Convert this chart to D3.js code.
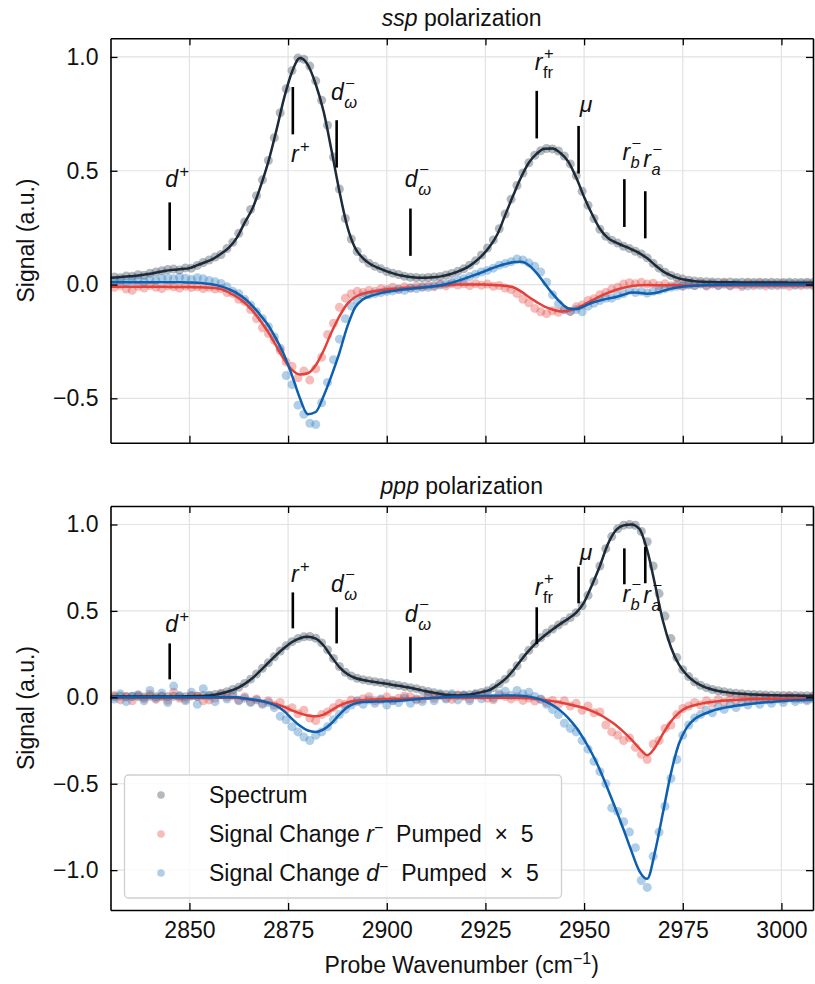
<!DOCTYPE html>
<html>
<head>
<meta charset="utf-8">
<script src="https://cdn.jsdelivr.net/npm/d3@7"></script>
<style>
  body { margin: 0; background: #fff; }
  svg text { font-family: "Liberation Sans", Arial, sans-serif; fill: #111; }
</style>
</head>
<body>
<svg id="chart" width="815" height="984"></svg>
<script>
// ---- sampling grids (cm^-1) ----
const fitWavenumber = [2830,2832,2834,2836,2838,2840,2842,2844,2846,2848,
  2850,2852,2854,2856,2858,2860,2862,2864,2866,2868,
  2870,2872,2874,2876,2878,2880,2882,2884,2886,2888,
  2890,2892,2894,2896,2898,2900,2902,2904,2906,2908,
  2910,2912,2914,2916,2918,2920,2922,2924,2926,2928,
  2930,2932,2934,2936,2938,2940,2942,2944,2946,2948,
  2950,2952,2954,2956,2958,2960,2962,2964,2966,2968,
  2970,2972,2974,2976,2978,2980,2982,2984,2986,2988,
  2990,2992,2994,2996,2998,3000,3002,3004,3006,3008];

const pointWavenumber = [2831,2832.5,2834,2835.5,2837,2838.5,2840,2841.5,2843,2844.5,
  2846,2847.5,2849,2850.5,2852,2853.5,2855,2856.5,2858,2859.5,
  2861,2862.5,2864,2865.5,2867,2868.5,2870,2871.5,2873,2874.5,
  2876,2877.5,2879,2880.5,2882,2883.5,2885,2886.5,2888,2889.5,
  2891,2892.5,2894,2895.5,2897,2898.5,2900,2901.5,2903,2904.5,
  2906,2907.5,2909,2910.5,2912,2913.5,2915,2916.5,2918,2919.5,
  2921,2922.5,2924,2925.5,2927,2928.5,2930,2931.5,2933,2934.5,
  2936,2937.5,2939,2940.5,2942,2943.5,2945,2946.5,2948,2949.5,
  2951,2952.5,2954,2955.5,2957,2958.5,2960,2961.5,2963,2964.5,
  2966,2967.5,2969,2970.5,2972,2973.5,2975,2976.5,2978,2979.5,
  2981,2982.5,2984,2985.5,2987,2988.5,2990,2991.5,2993,2994.5,
  2996,2997.5,2999,3000.5,3002,3003.5,3005,3006.5,3008];

// ---- ssp polarization: fitted curves ----
const sspSpectrumFit = [.030,.032,.035,.038,.042,.047,.054,.061,.065,.068,
  .072,.085,.098,.113,.135,.162,.205,.272,.335,.43,
  .54,.675,.82,.935,.995,.965,.88,.76,.59,.41,
  .255,.16,.115,.088,.072,.058,.047,.039,.033,.030,
  .030,.032,.037,.045,.057,.072,.095,.125,.165,.22,
  .305,.39,.47,.535,.575,.597,.598,.578,.54,.47,
  .385,.31,.245,.205,.185,.17,.155,.138,.115,.085,
  .058,.04,.027,.02,.015,.012,.011,.01,.01,.01,
  .009,.009,.009,.009,.009,.009,.008,.008,.008,.008];
const sspRPumpFit = [-.010,-.010,-.010,-.010,-.010,-.010,-.010,-.010,-.011,-.011,
  -.011,-.012,-.013,-.015,-.02,-.035,-.055,-.08,-.115,-.16,
  -.21,-.27,-.33,-.375,-.395,-.39,-.355,-.29,-.21,-.14,
  -.085,-.055,-.04,-.032,-.027,-.022,-.019,-.016,-.014,-.012,
  -.01,-.008,-.005,-.002,0,0,0,0,-.001,-.003,
  -.006,-.012,-.03,-.055,-.077,-.097,-.11,-.118,-.115,-.105,
  -.088,-.07,-.052,-.037,-.024,-.014,-.007,-.003,-.002,-.003,
  -.003,-.003,-.003,-.004,-.004,-.004,-.004,-.004,-.004,-.004,
  -.004,-.004,-.004,-.004,-.004,-.004,-.004,-.004,-.004,-.004];
const sspDPumpFit = [.010,.010,.010,.010,.010,.010,.010,.010,.010,.010,
  .009,.008,.005,0,-.008,-.02,-.038,-.062,-.095,-.135,
  -.18,-.24,-.31,-.40,-.50,-.57,-.56,-.49,-.40,-.30,
  -.185,-.10,-.065,-.05,-.04,-.032,-.027,-.022,-.018,-.015,
  -.012,-.008,-.002,.006,.016,.028,.04,.053,.067,.08,
  .09,.098,.1,.085,.05,.005,-.04,-.078,-.105,-.108,
  -.095,-.08,-.07,-.062,-.055,-.045,-.035,-.036,-.04,-.037,
  -.028,-.018,-.012,-.008,-.005,-.003,-.002,-.001,-.001,0,
  0,0,0,0,0,0,0,0,0,0];

// ---- ssp polarization: measured points ----
const sspSpectrumPts = [.033,.030,.038,.036,.043,.041,.050,.055,.061,.066,
  .068,.064,.073,.072,.084,.097,.108,.121,.132,.158,
  .186,.225,.275,.33,.39,.46,.545,.645,.755,.86,
  .94,.995,.99,.96,.895,.81,.70,.56,.42,.29,
  .2,.145,.113,.094,.08,.069,.057,.050,.044,.036,
  .032,.031,.029,.031,.033,.035,.042,.049,.058,.069,
  .085,.104,.13,.16,.196,.245,.31,.375,.435,.49,
  .535,.568,.588,.598,.596,.587,.565,.53,.478,.41,
  .348,.29,.243,.212,.195,.182,.168,.158,.146,.134,
  .117,.093,.072,.054,.04,.031,.024,.019,.016,.013,
  .012,.011,.010,.010,.011,.009,.010,.010,.009,.010,
  .009,.010,.009,.009,.010,.009,.009,.010,.009];
const sspRPumpPts = [-.012,-.005,-.02,-.025,-.008,-.015,-.004,-.012,-.018,-.006,
  -.01,-.016,-.007,-.013,-.01,-.018,-.012,-.02,-.018,-.035,
  -.04,-.065,-.075,-.11,-.15,-.19,-.215,-.245,-.29,-.34,
  -.36,-.41,-.38,-.42,-.37,-.32,-.22,-.17,-.1,-.06,
  -.04,-.03,-.035,-.025,-.03,-.018,-.022,-.012,-.02,-.01,
  -.015,-.006,-.012,-.004,-.01,.002,-.006,.004,-.002,.003,
  -.005,.004,-.003,.002,-.008,-.004,-.015,-.022,-.04,-.065,
  -.08,-.105,-.12,-.128,-.115,-.122,-.11,-.118,-.098,-.09,
  -.07,-.062,-.045,-.035,-.02,-.012,.002,.008,.004,.01,
  .002,.006,-.004,.003,-.006,.002,-.008,.001,-.005,.004,
  -.007,.002,-.003,.005,-.006,0,-.009,.003,-.004,.004,
  -.006,.002,-.005,.003,-.007,.001,-.004,.003,-.005];
const sspDPumpPts = [.012,.018,.008,.015,.02,.012,.022,.018,.028,.03,
  .025,.032,.028,.022,.03,.025,.018,.012,.005,-.01,
  -.03,-.04,-.065,-.09,-.12,-.15,-.185,-.23,-.28,-.4,
  -.44,-.53,-.57,-.61,-.615,-.52,-.43,-.33,-.24,-.15,
  -.095,-.07,-.05,-.045,-.04,-.035,-.03,-.028,-.022,-.025,
  -.015,-.018,-.01,-.012,-.005,-.002,.004,.01,.02,.025,
  .035,.045,.055,.062,.072,.085,.092,.1,.112,.108,
  .095,.08,.055,.01,-.045,-.085,-.11,-.118,-.11,-.12,
  -.095,-.082,-.07,-.06,-.06,-.048,-.04,-.025,-.035,-.03,
  -.038,-.03,-.025,-.018,-.012,-.008,-.005,-.002,-.004,.002,
  -.003,.003,-.005,.001,-.004,.004,-.002,-.006,.002,-.003,
  .003,-.004,.001,-.002,.003,-.003,.002,-.002,.001];

// ---- ppp polarization: fitted curves ----
const pppSpectrumFit = [.005,.005,.005,.005,.005,.005,.005,.005,.005,.005,
  .006,.007,.009,.014,.022,.035,.052,.078,.112,.155,
  .2,.245,.285,.32,.342,.35,.34,.30,.235,.175,
  .135,.112,.1,.092,.085,.078,.07,.063,.055,.045,
  .035,.026,.018,.013,.011,.013,.019,.03,.042,.07,
  .105,.155,.215,.27,.318,.358,.393,.425,.455,.49,
  .55,.65,.76,.885,.965,.995,1.0,.975,.85,.65,
  .44,.29,.19,.13,.09,.065,.048,.037,.03,.024,
  .02,.017,.015,.013,.012,.011,.01,.01,.009,.009];
const pppRPumpFit = [-.003,-.003,-.003,-.003,-.003,-.003,-.003,-.003,-.003,-.003,
  -.003,-.003,-.003,-.003,-.003,-.003,-.003,-.008,-.015,-.022,
  -.03,-.04,-.055,-.075,-.093,-.105,-.11,-.1,-.075,-.048,
  -.03,-.02,-.015,-.013,-.011,-.01,-.009,-.008,-.007,-.006,
  -.005,-.004,-.003,-.003,-.003,-.003,-.003,-.003,-.003,-.003,
  -.003,-.003,-.004,-.006,-.01,-.015,-.022,-.03,-.04,-.05,
  -.062,-.08,-.1,-.128,-.16,-.2,-.245,-.295,-.335,-.29,
  -.21,-.14,-.09,-.06,-.045,-.035,-.028,-.022,-.018,-.015,
  -.013,-.011,-.01,-.01,-.009,-.009,-.008,-.008,-.008,-.008];
const pppDPumpFit = [0,0,0,0,0,0,0,0,0,0,
  0,0,0,0,0,0,0,-.006,-.012,-.02,
  -.032,-.05,-.08,-.125,-.165,-.192,-.2,-.185,-.15,-.1,
  -.058,-.035,-.027,-.025,-.024,-.023,-.021,-.018,-.014,-.01,
  -.006,-.003,0,.002,.004,.005,.006,.007,.008,.009,
  .01,.01,.009,.004,-.006,-.022,-.045,-.077,-.12,-.175,
  -.245,-.325,-.42,-.53,-.645,-.765,-.89,-1.005,-1.05,-.89,
  -.665,-.44,-.27,-.175,-.125,-.1,-.082,-.068,-.058,-.05,
  -.044,-.038,-.033,-.029,-.025,-.022,-.019,-.017,-.015,-.014];

// ---- ppp polarization: measured points ----
const pppSpectrumPts = [.004,.007,.003,.006,.005,.002,.006,.004,.007,.003,
  .006,.005,.004,.008,.006,.01,.012,.016,.024,.032,
  .045,.058,.08,.105,.135,.168,.2,.235,.268,.298,
  .322,.34,.35,.352,.342,.315,.275,.225,.178,.145,
  .124,.11,.102,.096,.09,.086,.08,.074,.068,.062,
  .056,.05,.041,.034,.026,.02,.016,.012,.011,.013,
  .015,.02,.028,.038,.055,.078,.105,.14,.182,.23,
  .272,.31,.345,.372,.395,.418,.44,.462,.49,.53,
  .59,.67,.76,.86,.93,.975,.995,1.0,.995,.96,
  .9,.76,.6,.47,.34,.23,.16,.12,.09,.07,
  .056,.045,.038,.032,.026,.023,.02,.018,.016,.015,
  .014,.012,.011,.011,.01,.01,.009,.009,.008];
const pppRPumpPts = [.01,-.015,.005,-.02,.012,-.008,.018,-.012,.004,-.018,
  .03,-.006,-.012,.01,.006,-.02,-.015,-.004,.015,.002,
  .008,-.016,.004,-.025,-.01,-.035,-.02,-.045,-.03,-.07,
  -.06,-.095,-.075,-.12,-.135,-.1,-.085,-.06,-.035,-.04,
  -.015,-.025,-.008,.004,-.02,-.016,.002,-.018,-.006,.008,
  .004,-.015,-.01,.012,-.006,.01,-.004,-.012,.014,.006,
  -.008,.012,.01,-.006,-.014,.012,.005,-.01,.004,-.018,
  -.005,-.022,-.012,-.03,-.018,-.04,-.02,-.05,-.035,-.075,
  -.05,-.09,-.085,-.16,-.2,-.22,-.25,-.235,-.29,-.33,
  -.36,-.27,-.25,-.18,-.16,-.1,-.065,-.05,-.03,-.045,
  -.02,-.035,-.012,-.028,-.006,-.022,-.002,-.018,-.004,-.016,
  .002,-.014,-.005,-.012,.004,-.01,-.002,-.012,.002];
const pppDPumpPts = [-.01,.02,-.025,.005,.015,-.02,.04,-.005,.025,-.03,
  .065,.01,-.02,.03,-.04,.05,.008,-.025,.015,-.01,
  .02,-.02,-.005,-.03,-.015,-.04,-.03,-.06,-.11,-.13,
  -.17,-.2,-.23,-.25,-.22,-.2,-.17,-.13,-.1,-.07,
  -.045,-.02,-.04,-.015,-.035,-.01,-.045,-.02,-.03,-.005,
  -.035,-.01,-.025,.01,-.02,.015,-.01,.02,-.015,.012,
  -.02,.018,-.008,.025,-.005,.02,.035,.01,.04,.02,
  .03,.005,-.01,-.04,-.07,-.1,-.15,-.18,-.2,-.25,
  -.3,-.37,-.43,-.5,-.64,-.66,-.72,-.78,-.87,-1.06,
  -1.1,-.92,-.78,-.63,-.47,-.36,-.22,-.16,-.12,-.1,
  -.075,-.09,-.055,-.07,-.04,-.06,-.03,-.045,-.02,-.04,
  -.015,-.035,-.01,-.03,-.005,-.025,-.012,-.02,-.008];

// ---- axis ticks ----
const xTicks = [2850, 2875, 2900, 2925, 2950, 2975, 3000];
const sspYTicks = [-0.5, 0, 0.5, 1.0];
const pppYTicks = [-1.0, -0.5, 0, 0.5, 1.0];

// ---- mode assignments: symbol, superscript, subscript, position ----
const modeSymbol = ['d', 'r', 'd', 'd', 'r', 'μ', 'r', 'r'];
const modeSup = ['+', '+', '−', '−', '+', '', '−', '−'];
const modeSub = ['', '', 'ω', 'ω', 'fr', '', 'b', 'a'];
const modeWavenumber = [2845, 2876.2, 2887.3, 2906, 2938, 2948.6, 2960.2, 2965.5];
// marker spans and label anchors in signal units
const sspMarkLow = [0.151, 0.660, 0.514, 0.126, 0.642, 0.488, 0.253, 0.203];
const sspMarkHigh = [0.361, 0.868, 0.722, 0.334, 0.851, 0.697, 0.463, 0.410];
const sspLabelAt = [0.429, 0.539, 0.810, 0.429, 0.942, 0.760, 0.546, 0.517];
const pppMarkLow = [0.104, 0.399, 0.312, 0.142, 0.308, 0.544, 0.654, 0.660];
const pppMarkHigh = [0.312, 0.607, 0.521, 0.351, 0.521, 0.756, 0.862, 0.871];
const pppLabelAt = [0.380, 0.669, 0.611, 0.437, 0.592, 0.794, 0.553, 0.546];

// ---- legend ----
const legendLabels = ['Spectrum', 'Signal Change ', 'Signal Change '];
const legendSymbols = ['', 'r', 'd'];

// ---------------------------------------------------------------
const svg = d3.select('#chart');
const FONT = 23, SMALL = 16, SCRIPT = 16.5;
const colors = {
  specDot: '#44505c', specLine: '#1c2a39',
  redDot: '#e3403a', redLine: '#e3403a',
  blueDot: '#2f7fc1', blueLine: '#0e5fae'
};

const x = d3.scaleLinear().domain([2830, 3008]).range([110.5, 813]);

// italic symbol with super/subscript, centred on cx
function mathLabel(parent, cx, baseY, sym, sup, sub) {
  const g = parent.append('g');
  const base = g.append('text').attr('font-size', FONT).attr('font-style', 'italic').text(sym);
  const wb = base.node().getComputedTextLength();
  let w = wb;
  if (sup) {
    const s = g.append('text').attr('x', wb + 1.5).attr('y', sub ? -11.5 : -9.5)
      .attr('font-size', SCRIPT).text(sup);
    w = Math.max(w, wb + 1.5 + s.node().getComputedTextLength());
  }
  if (sub) {
    const s = g.append('text').attr('x', wb + 0.5).attr('y', sup ? 8 : 6)
      .attr('font-size', SCRIPT).attr('font-style', sub === 'fr' ? 'normal' : 'italic').text(sub);
    w = Math.max(w, wb + 0.5 + s.node().getComputedTextLength());
  }
  g.attr('transform', `translate(${cx - w / 2},${baseY})`);
}

const panels = [
  { name: 'ssp', top: 38.3, bottom: 442.7, domain: [-0.695, 1.082], yTicks: sspYTicks,
    specPts: sspSpectrumPts, redPts: sspRPumpPts, bluePts: sspDPumpPts,
    specFit: sspSpectrumFit, redFit: sspRPumpFit, blueFit: sspDPumpFit,
    low: sspMarkLow, high: sspMarkHigh, labelAt: sspLabelAt, xLabels: false },
  { name: 'ppp', top: 506, bottom: 910, domain: [-1.2306, 1.107], yTicks: pppYTicks,
    specPts: pppSpectrumPts, redPts: pppRPumpPts, bluePts: pppDPumpPts,
    specFit: pppSpectrumFit, redFit: pppRPumpFit, blueFit: pppDPumpFit,
    low: pppMarkLow, high: pppMarkHigh, labelAt: pppLabelAt, xLabels: true }
];

const defs = svg.append('defs');
const [xl, xr] = x.range();

panels.forEach(p => {
  const y = d3.scaleLinear().domain(p.domain).range([p.bottom, p.top]);
  const clipId = 'clip-' + p.name;
  defs.append('clipPath').attr('id', clipId).append('rect')
    .attr('x', xl).attr('y', p.top).attr('width', xr - xl).attr('height', p.bottom - p.top);

  const g = svg.append('g');

  // grid
  g.append('g').selectAll('line').data(xTicks).join('line')
    .attr('x1', d => x(d)).attr('x2', d => x(d)).attr('y1', p.top).attr('y2', p.bottom)
    .attr('stroke', '#e2e2e2').attr('stroke-width', 1.2);
  g.append('g').selectAll('line').data(p.yTicks).join('line')
    .attr('x1', xl).attr('x2', xr).attr('y1', d => y(d)).attr('y2', d => y(d))
    .attr('stroke', '#e2e2e2').attr('stroke-width', 1.2);

  const data = g.append('g').attr('clip-path', `url(#${clipId})`);

  // measured points
  [[p.specPts, colors.specDot, 0.4], [p.redPts, colors.redDot, 0.35], [p.bluePts, colors.blueDot, 0.38]]
    .forEach(([vals, col, op]) => {
      data.append('g').selectAll('circle').data(vals).join('circle')
        .attr('cx', (d, i) => x(pointWavenumber[i])).attr('cy', d => y(d)).attr('r', 4.5)
        .attr('fill', col).attr('fill-opacity', op);
    });

  // fitted curves
  const line = d3.line().x((d, i) => x(fitWavenumber[i])).y(d => y(d)).curve(d3.curveMonotoneX);
  [[p.specFit, colors.specLine], [p.redFit, colors.redLine], [p.blueFit, colors.blueLine]]
    .forEach(([vals, col]) => {
      data.append('path').datum(vals).attr('d', line).attr('fill', 'none')
        .attr('stroke', col).attr('stroke-width', 2.5).attr('stroke-linejoin', 'round');
    });

  // mode markers
  modeWavenumber.forEach((w, i) => {
    g.append('line').attr('x1', x(w)).attr('x2', x(w))
      .attr('y1', y(p.low[i])).attr('y2', y(p.high[i]))
      .attr('stroke', '#000').attr('stroke-width', 2.6);
    mathLabel(g, x(w) + 7.5, y(p.labelAt[i]), modeSymbol[i], modeSup[i], modeSub[i]);
  });

  // axes (inward ticks on all four sides)
  const fmt = d3.format('.1f');
  const bottomAxis = d3.axisBottom(x).tickValues(xTicks).tickSizeInner(-7).tickSizeOuter(0).tickPadding(12)
    .tickFormat(p.xLabels ? d3.format('d') : () => '');
  const topAxis = d3.axisTop(x).tickValues(xTicks).tickSizeInner(-7).tickSizeOuter(0).tickFormat(() => '');
  const leftAxis = d3.axisLeft(y).tickValues(p.yTicks).tickSizeInner(-7).tickSizeOuter(0).tickPadding(12).tickFormat(fmt);
  const rightAxis = d3.axisRight(y).tickValues(p.yTicks).tickSizeInner(-7).tickSizeOuter(0).tickFormat(() => '');

  const axes = [
    g.append('g').attr('transform', `translate(0,${p.bottom})`).call(bottomAxis),
    g.append('g').attr('transform', `translate(0,${p.top})`).call(topAxis),
    g.append('g').attr('transform', `translate(${xl},0)`).call(leftAxis),
    g.append('g').attr('transform', `translate(${xr},0)`).call(rightAxis)
  ];
  axes.forEach(a => {
    a.select('.domain').attr('stroke', '#000').attr('stroke-width', 1.6);
    a.selectAll('.tick line').attr('stroke', '#000').attr('stroke-width', 1.3);
    a.selectAll('.tick text').attr('font-size', FONT).attr('fill', '#111')
      .attr('font-family', '"Liberation Sans", Arial, sans-serif');
  });

  // title
  const title = svg.append('text').attr('x', (xl + xr) / 2).attr('y', p.top - 12.3)
    .attr('text-anchor', 'middle').attr('font-size', FONT).style('white-space', 'pre');
  title.append('tspan').attr('font-style', 'italic').text(p.name);
  title.append('tspan').text(' polarization');

  // y label
  svg.append('text').attr('transform', `translate(34,${(p.top + p.bottom) / 2}) rotate(-90)`)
    .attr('text-anchor', 'middle').attr('font-size', FONT).text('Signal (a.u.)');
});

// x label
const xlab = svg.append('text').attr('x', (xl + xr) / 2).attr('y', 973)
  .attr('text-anchor', 'middle').attr('font-size', FONT).style('white-space', 'pre');
xlab.append('tspan').text('Probe Wavenumber (cm');
xlab.append('tspan').attr('font-size', SMALL).attr('dy', -9).text('−1');
xlab.append('tspan').attr('dy', 9).text(')');

// legend
const leg = svg.append('g');
leg.append('rect').attr('x', 124.5).attr('y', 775).attr('width', 437).attr('height', 123)
  .attr('rx', 4).attr('fill', '#fff').attr('fill-opacity', 0.8)
  .attr('stroke', '#cfcfcf').attr('stroke-width', 1.3);
const legDots = [[colors.specDot, 0.4], [colors.redDot, 0.35], [colors.blueDot, 0.38]];
legendLabels.forEach((lab, i) => {
  const cy = 795 + i * 39;
  leg.append('circle').attr('cx', 161).attr('cy', cy).attr('r', 3.8)
    .attr('fill', legDots[i][0]).attr('fill-opacity', legDots[i][1]);
  const t = leg.append('text').attr('x', 209).attr('y', cy + 8).attr('font-size', FONT)
    .style('white-space', 'pre');
  t.append('tspan').text(lab);
  if (legendSymbols[i]) {
    t.append('tspan').attr('font-style', 'italic').text(legendSymbols[i]);
    t.append('tspan').attr('font-size', SMALL).attr('dy', -9).text('−');
    t.append('tspan').attr('dy', 9).text('  Pumped  ×  5');
  }
});
</script>
</body>
</html>
